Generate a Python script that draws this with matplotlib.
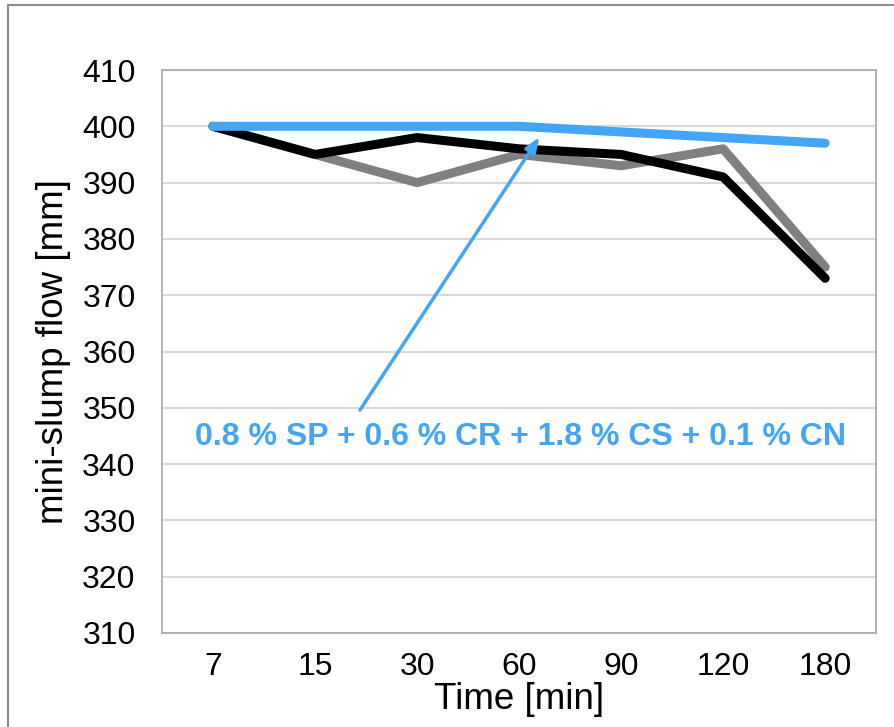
import matplotlib.pyplot as plt
import matplotlib.patches as patches
import numpy as np

plt.rcParams['font.family'] = ['Liberation Sans', 'DejaVu Sans']

# data
times = ["7", "15", "30", "60", "90", "120", "180"]
flow_gray = [400, 395, 390, 395, 393, 396, 375]
flow_black = [400, 395, 398, 396, 395, 391, 373]
flow_blue = [400, 400, 400, 400, 399, 398, 397]
mix_label = "0.8 % SP + 0.6 % CR + 1.8 % CS + 0.1 % CN"

blue = '#42A5F5'

fig = plt.figure(figsize=(8.95, 7.27), dpi=100)
ax = fig.add_axes([0.181, 0.1293, 0.798, 0.7744])

# outer frame of the chart area
fig.patches.append(patches.Rectangle((8 / 895, -0.05), 1.2, 1 - 5 / 727 + 0.05,
                                     transform=fig.transFigure, fill=False,
                                     edgecolor='#8C8C8C', linewidth=1.5))

x = np.arange(len(times))
style = dict(linewidth=6.5, solid_capstyle='round', solid_joinstyle='round')
ax.plot(x, flow_gray, color='#808080', zorder=3, **style)
ax.plot(x, flow_black, color='black', zorder=4, **style)
ax.plot(x, flow_blue, color=blue, zorder=5, **style)

ax.set_xlim(-0.5, len(times) - 0.5)
ax.set_ylim(310, 410)
ax.set_yticks(np.arange(310, 411, 10))
ax.set_xticks(x)
ax.set_xticklabels(times)
ax.tick_params(axis='both', length=0, labelsize=23)
ax.tick_params(axis='y', pad=19)
ax.tick_params(axis='x', pad=14)
ax.grid(axis='y', color='#D9D9D9', linewidth=1.5, zorder=0)
ax.set_axisbelow(True)
for s in ax.spines.values():
    s.set_color('#A6A6A6')
    s.set_linewidth(1.2)

ax.set_xlabel("Time [min]", fontsize=26.5, labelpad=0)
ax.set_ylabel("mini-slump flow [mm]", fontsize=26.5, labelpad=8)

ax.annotate("", xy=(3.2, 398.1), xytext=(1.44, 349.6),
            arrowprops=dict(arrowstyle='-|>,head_length=0.9,head_width=0.35',
                            color=blue, lw=2.5, shrinkA=0, shrinkB=0),
            zorder=6)
ax.text(3.015, 344.8, mix_label, color=blue, fontsize=23, fontweight='bold',
        ha='center', va='center', zorder=6)

fig.savefig("out.png", dpi=100)
